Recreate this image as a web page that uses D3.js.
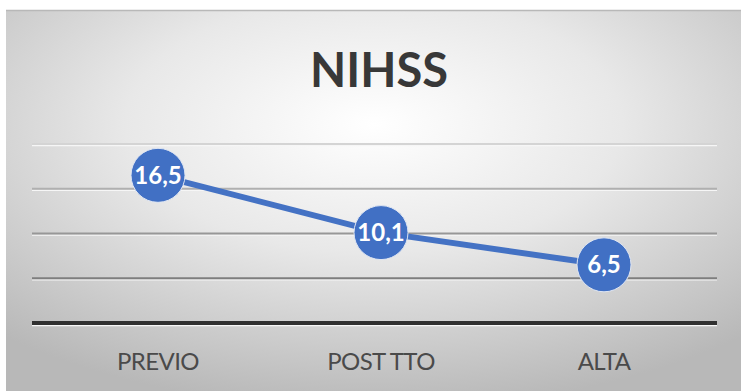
<!DOCTYPE html>
<html><head><meta charset="utf-8">
<script src="https://cdn.jsdelivr.net/npm/d3@7"></script>
<style>html,body{margin:0;padding:0;background:#fff;}svg{display:block;}</style>
</head><body>
<script>
const categories = ["PREVIO", "POST TTO", "ALTA"];
const values = [16.5, 10.1, 6.5];
const labels = ["16,5", "10,1", "6,5"];
const gridTicks = [5, 10, 15, 20];
const title = "NIHSS";

const W = 743, H = 391;
const svg = d3.select("body").append("svg").attr("width", W).attr("height", H);
const defs = svg.append("defs");
const rg = defs.append("radialGradient").attr("id", "bg")
  .attr("cx", "50%").attr("cy", "30%").attr("r", "75%");
rg.append("stop").attr("offset", "0%").attr("stop-color", "#ffffff");
rg.append("stop").attr("offset", "45%").attr("stop-color", "#e8e8e8");
rg.append("stop").attr("offset", "100%").attr("stop-color", "#b8b8b8");

svg.append("rect").attr("x", 6).attr("y", 10).attr("width", 735).attr("height", 381).attr("fill", "url(#bg)");
svg.append("line").attr("x1", 6).attr("x2", 741).attr("y1", 10.5).attr("y2", 10.5).attr("stroke", "#b8b8b8").attr("stroke-width", 1.5);

const x = d3.scalePoint().domain(categories).range([158, 604]);
const y = d3.scaleLinear().domain([0, 20]).range([323, 144]);

svg.append("text").attr("x", 379).attr("y", 87).attr("text-anchor", "middle")
  .attr("font-family", "Lato, 'Open Sans', sans-serif").attr("font-weight", 700)
  .attr("font-size", 47).attr("fill", "#383838").text(title);

const gridColors = ["#7e7e7e", "#979797", "#b0b0b0", "#d4d4d4"];
const g = svg.append("g");
gridTicks.forEach((t, i) => {
  g.append("line").attr("x1", 32).attr("x2", 717).attr("y1", y(t) + 1.6).attr("y2", y(t) + 1.6)
    .attr("stroke", "#f6f6f6").attr("stroke-width", 1.2);
  g.append("line").attr("x1", 32).attr("x2", 717).attr("y1", y(t)).attr("y2", y(t))
    .attr("stroke", gridColors[i]).attr("stroke-width", 2);
});
// baseline
g.append("line").attr("x1", 32).attr("x2", 717).attr("y1", y(0) + 2.6).attr("y2", y(0) + 2.6)
  .attr("stroke", "#f6f6f6").attr("stroke-width", 1.2);
g.append("line").attr("x1", 32).attr("x2", 717).attr("y1", y(0)).attr("y2", y(0))
  .attr("stroke", "#303030").attr("stroke-width", 4);

// x axis labels
svg.append("g").selectAll("text").data(categories).join("text")
  .attr("x", d => x(d)).attr("y", 370).attr("text-anchor", "middle")
  .attr("font-family", "Lato, 'Open Sans', sans-serif").attr("font-size", 24)
  .attr("letter-spacing", "-0.6").attr("fill", "#4a4a4a").text(d => d);

const pts = categories.map((c, i) => [x(c), y(values[i])]);
svg.append("path").attr("d", d3.line()(pts)).attr("fill", "none")
  .attr("stroke", "#4472c4").attr("stroke-width", 6).attr("stroke-linejoin", "round");

svg.append("g").selectAll("circle").data(pts).join("circle")
  .attr("cx", d => d[0]).attr("cy", d => d[1]).attr("r", 27)
  .attr("fill", "#4170c4").attr("stroke", "#dfe6f3").attr("stroke-width", 1);

svg.append("g").selectAll("text").data(pts).join("text")
  .attr("x", d => d[0]).attr("y", d => d[1] + 8.5).attr("text-anchor", "middle")
  .attr("font-family", "Lato, 'Open Sans', sans-serif").attr("font-weight", 700)
  .attr("font-size", 24).attr("fill", "#ffffff").text((d, i) => labels[i]);
</script>
</body></html>
